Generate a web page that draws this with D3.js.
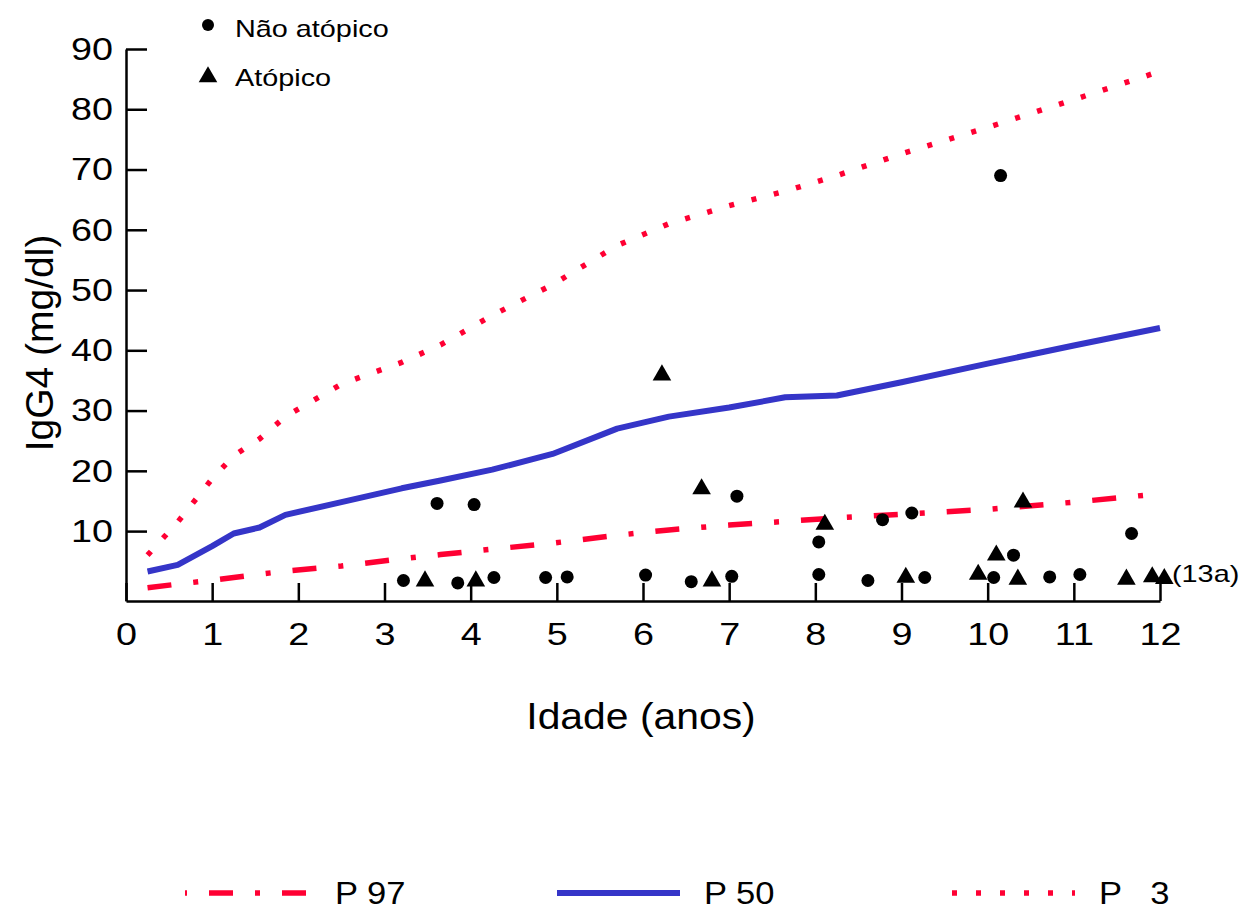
<!DOCTYPE html>
<html>
<head>
<meta charset="utf-8">
<script src="https://cdn.jsdelivr.net/npm/d3@7"></script>
<style>
body { margin: 0; background: #fff; }
text { font-family: "Liberation Sans", Arial, sans-serif; fill: #000; }
</style>
</head>
<body>
<div id="chart"></div>
<script>

// percentile curves (age in years, IgG4 in mg/dl)
var ages = [0.25, 0.6, 1.0, 1.25, 1.55, 1.85, 2.5, 3.2, 3.65, 4.25, 4.95, 5.7, 6.3, 7.0, 7.65, 8.25, 9.0, 10.0, 11.0, 12.0];
var p97 = [0.6, 1.2, 1.85, 2.3, 2.85, 3.35, 4.2, 5.4, 6.1, 7.0, 8.0, 9.3, 10.2, 11.0, 11.6, 12.2, 12.8, 13.6, 14.8, 16.2];
var p50 = [3.3, 4.4, 7.5, 9.6, 10.6, 12.7, 14.8, 17.1, 18.4, 20.2, 22.8, 27.0, 29.0, 30.5, 32.2, 32.5, 34.7, 37.8, 40.8, 43.7];
var p3 = [6.0, 11.5, 18.7, 22.5, 25.3, 29.0, 34.4, 38.0, 40.9, 45.8, 50.9, 57.4, 61.0, 64.0, 66.4, 69.0, 72.6, 77.0, 81.6, 86.3];

// individual subjects
var naoAtopicoAge = [3.22, 3.61, 3.85, 4.04, 4.27, 4.87, 5.12, 6.03, 6.56, 7.03, 7.09, 8.04, 8.04, 8.61, 8.78, 9.12, 9.27, 10.15, 10.07, 10.3, 10.72, 11.07, 11.67];
var naoAtopicoIgG4 = [1.8, 14.6, 1.4, 14.4, 2.3, 2.3, 2.4, 2.7, 1.6, 2.5, 15.8, 8.2, 2.8, 1.8, 11.9, 13.0, 2.3, 69.0, 2.3, 6.0, 2.4, 2.8, 9.6];
var atopicoAge = [3.47, 4.06, 6.22, 6.68, 6.8, 8.11, 9.05, 9.89, 10.1, 10.35, 10.41, 11.61, 11.91, 12.05];
var atopicoIgG4 = [1.7, 1.7, 35.9, 17.0, 1.7, 11.1, 2.3, 2.8, 6.0, 2.0, 14.8, 2.0, 2.4, 2.1];

var xTicks = [0, 1, 2, 3, 4, 5, 6, 7, 8, 9, 10, 11, 12];
var yTicks = [10, 20, 30, 40, 50, 60, 70, 80, 90];

var w = 1241;
var h = 910;
var red = "#ff0033";
var blue = "#3535c8";

var svg = d3.select("#chart")
	.append("svg")
	.attr("width", w)
	.attr("height", h);

// the original lettering is a bit wider than Liberation Sans, so stretch it
function widen(sel, k) {
	sel.each(function() {
		var len = this.getComputedTextLength();
		d3.select(this)
			.attr("textLength", len * k)
			.attr("lengthAdjust", "spacingAndGlyphs");
	});
}

var xScale = d3.scaleLinear()
	.domain([0, 12])
	.range([126, 1160]);
var yScale = d3.scaleLinear()
	.domain([-1.6, 90])
	.range([601, 49]);

// axes: ticks point into the plot
var yAxis = d3.axisLeft(yScale)
	.tickValues(yTicks)
	.tickSizeInner(-21)
	.tickSizeOuter(0)
	.tickPadding(13);
var xAxis = d3.axisBottom(xScale)
	.tickValues(xTicks)
	.tickSizeInner(-18)
	.tickSizeOuter(0)
	.tickPadding(21);

var yg = svg.append("g")
	.attr("transform", "translate(" + xScale(0) + ",0)")
	.call(yAxis);
var xg = svg.append("g")
	.attr("transform", "translate(0," + yScale(-1.6) + ")")
	.call(xAxis);

[xg, yg].forEach(function(g) {
	g.selectAll("path, line").attr("stroke", "#000").attr("stroke-width", 2.5);
	g.selectAll("text")
		.attr("font-size", 32)
		.attr("fill", "#000")
		.style("font-family", "'Liberation Sans', Arial, sans-serif")
		.call(widen, 1.18);
});

// axis titles
svg.append("text")
	.attr("x", 641)
	.attr("y", 729)
	.attr("text-anchor", "middle")
	.attr("font-size", 36)
	.text("Idade (anos)")
	.call(widen, 1.135);
svg.append("text")
	.attr("transform", "translate(53,343) rotate(-90)")
	.attr("text-anchor", "middle")
	.attr("font-size", 39)
	.text("IgG4 (mg/dl)");

// percentile lines
var line = d3.line()
	.x(function(d) { return xScale(d[0]); })
	.y(function(d) { return yScale(d[1]); });

var curves = [
	{ name: "P 97", values: p97, color: red, width: 5.5, dash: "24,22,5,22", legendDash: "5,22,24,22", legendOffset: 3, lx: 185, tx: 335 },
	{ name: "P 50", values: p50, color: blue, width: 6, dash: null, legendDash: null, legendOffset: 0, lx: 557, tx: 704 },
	{ name: "P   3", values: p3, color: red, width: 5.5, dash: "5,18", legendDash: "5,19", legendOffset: 0, lx: 952, tx: 1099 }
];

svg.append("g")
	.selectAll("path")
	.data(curves)
	.enter()
	.append("path")
	.attr("d", function(c) { return line(ages.map(function(a, i) { return [a, c.values[i]]; })); })
	.attr("fill", "none")
	.attr("stroke", function(c) { return c.color; })
	.attr("stroke-width", function(c) { return c.width; })
	.attr("stroke-dasharray", function(c) { return c.dash; })
	.attr("stroke-linejoin", "round");

// data points
var circles = svg.append("g")
	.selectAll("circle")
	.data(naoAtopicoAge.map(function(a, i) { return [a, naoAtopicoIgG4[i]]; }))
	.enter()
	.append("circle")
	.attr("cx", function(d) { return xScale(d[0]); })
	.attr("cy", function(d) { return yScale(d[1]); })
	.attr("r", 6.5)
	.attr("fill", "#000");

var tri = d3.symbol().type(d3.symbolTriangle).size(150);
svg.append("g")
	.selectAll("path")
	.data(atopicoAge.map(function(a, i) { return [a, atopicoIgG4[i]]; }))
	.enter()
	.append("path")
	.attr("d", tri)
	.attr("transform", function(d) { return "translate(" + xScale(d[0]) + "," + yScale(d[1]) + ")"; })
	.attr("fill", "#000");

svg.append("text")
	.attr("x", 1172)
	.attr("y", 582)
	.attr("font-size", 24)
	.text("(13a)")
	.call(widen, 1.2);

// top legend
svg.append("circle")
	.attr("cx", 208)
	.attr("cy", 25)
	.attr("r", 6)
	.attr("fill", "#000");
svg.append("text")
	.attr("x", 235)
	.attr("y", 37)
	.attr("font-size", 24)
	.text("Não atópico")
	.call(widen, 1.2);
svg.append("path")
	.attr("d", tri)
	.attr("transform", "translate(208,77)")
	.attr("fill", "#000");
svg.append("text")
	.attr("x", 235)
	.attr("y", 86)
	.attr("font-size", 24)
	.text("Atópico")
	.call(widen, 1.2);

// bottom legend
var lg = svg.append("g")
	.selectAll("g")
	.data(curves)
	.enter()
	.append("g");
lg.append("line")
	.attr("x1", function(c) { return c.lx; })
	.attr("x2", function(c) { return c.lx + 123; })
	.attr("y1", 893)
	.attr("y2", 893)
	.attr("stroke", function(c) { return c.color; })
	.attr("stroke-width", function(c) { return c.width; })
	.attr("stroke-dasharray", function(c) { return c.legendDash; })
	.attr("stroke-dashoffset", function(c) { return c.legendOffset; });
lg.append("text")
	.attr("x", function(c) { return c.tx; })
	.attr("y", 904)
	.attr("font-size", 32)
	.style("white-space", "pre")
	.text(function(c) { return c.name; })
	.call(widen, 1.08);

</script>
</body>
</html>
